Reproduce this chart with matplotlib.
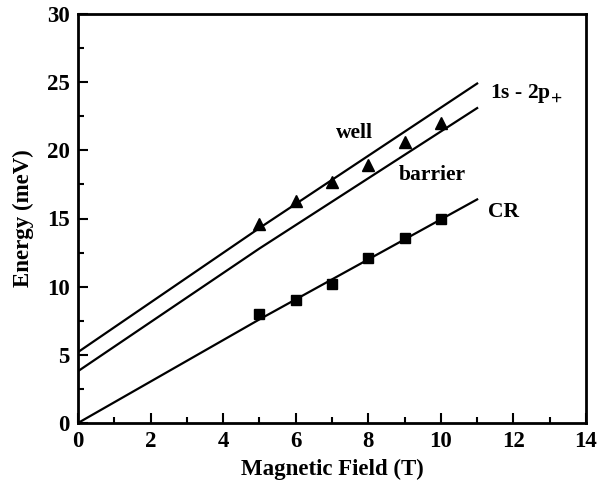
import numpy as np
import matplotlib
matplotlib.use("Agg")
import matplotlib.pyplot as plt
from matplotlib.ticker import MultipleLocator

plt.rcParams['font.family'] = ['Liberation Serif', 'DejaVu Serif']
plt.rcParams['font.weight'] = 'bold'
plt.rcParams['mathtext.fontset'] = 'stix'

# theory curves
line_x = [0, 5, 11]
well_line = [5.2, 14.3, 24.9]
barrier_line = [3.8, 12.8, 23.1]
cr_line = [0, 7.6, 16.4]

# measured points
field = [5, 6, 7, 8, 9, 10]
well_pts = [14.6, 16.3, 17.7, 18.9, 20.6, 22.0]
cr_pts = [8.0, 9.0, 10.2, 12.1, 13.6, 15.0]

fig = plt.figure(figsize=(6.07, 4.82), dpi=100)
ax = fig.add_axes([78 / 607, 59 / 482, 508 / 607, 409 / 482])

ax.plot(line_x, well_line, color='black', lw=1.6)
ax.plot(line_x, barrier_line, color='black', lw=1.6)
ax.plot(line_x, cr_line, color='black', lw=1.6)
ax.plot(field, well_pts, '^', color='black', ms=8, ls='none')
ax.plot(field, cr_pts, 's', color='black', ms=7, ls='none')

ax.text(7.1, 21.3, 'well', fontsize=15.5, fontweight='bold', va='center')
ax.text(8.85, 18.2, 'barrier', fontsize=15.5, fontweight='bold', va='center')
ax.text(11.35, 24.2, r'1s - 2p$_\mathbf{+}$', fontsize=15.5, fontweight='bold', va='center')
ax.text(11.3, 15.5, 'CR', fontsize=15.5, fontweight='bold', va='center')

ax.set_xlim(0, 14)
ax.set_ylim(0, 30)
ax.xaxis.set_major_locator(MultipleLocator(2))
ax.xaxis.set_minor_locator(MultipleLocator(1))
ax.yaxis.set_major_locator(MultipleLocator(5))
ax.yaxis.set_minor_locator(MultipleLocator(2.5))
ax.tick_params(which='major', direction='in', length=7, width=1.5, labelsize=16.5, pad=6)
ax.tick_params(which='minor', direction='in', length=4, width=1.5)
for s in ax.spines.values():
    s.set_linewidth(2)

ax.set_xlabel('Magnetic Field (T)', fontsize=16.5, fontweight='bold', labelpad=5)
ax.set_ylabel('Energy (meV)', fontsize=16.5, fontweight='bold', labelpad=9)

fig.savefig('out.png', dpi=100)
